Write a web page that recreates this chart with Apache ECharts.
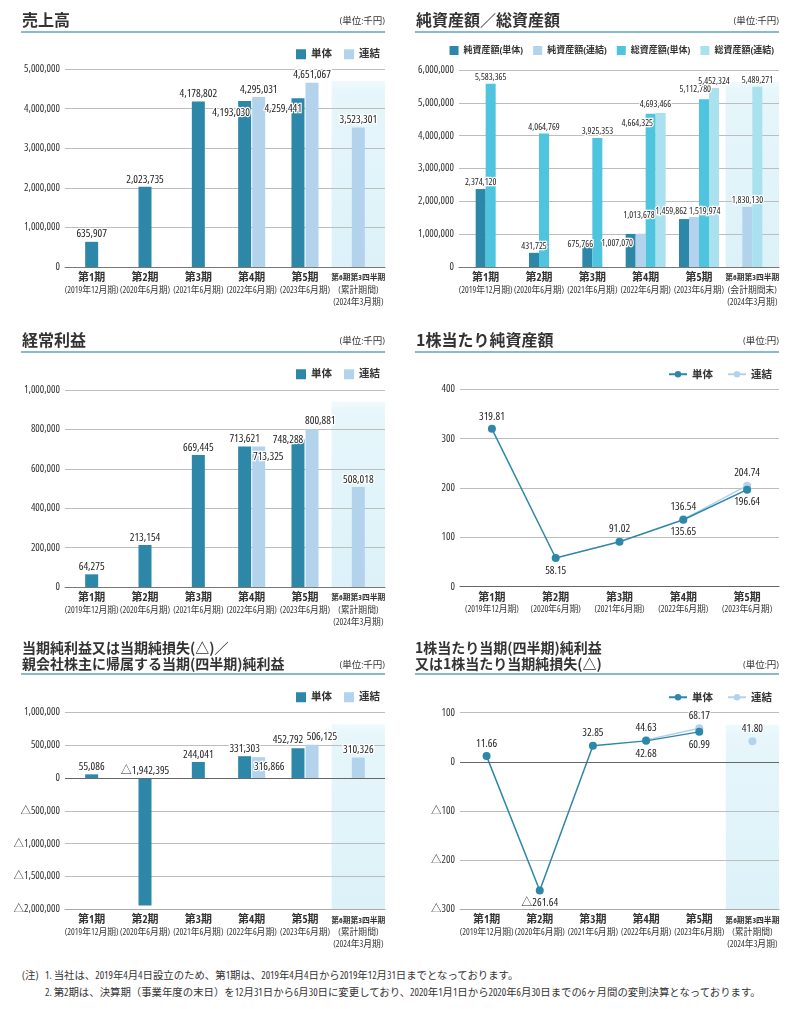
<!DOCTYPE html>
<html><head><meta charset="utf-8">
<script src="https://cdn.jsdelivr.net/npm/echarts@6/dist/echarts.min.js"></script>
<style>
body{margin:0;background:#fff;width:800px;height:1009px;position:relative;overflow:hidden}
.c{position:absolute}
#note{position:absolute;left:22px;top:967px;font-size:10.4px;font-family:'Open Sans','Noto Sans CJK JP',sans-serif;font-stretch:condensed;color:#333;line-height:17px;white-space:nowrap}
#note .h{display:inline-block;width:23px}
</style></head><body>
<div id="c1" class="c" style="left:0;top:0;width:400px;height:320px"></div>
<div id="c2" class="c" style="left:400px;top:0;width:400px;height:320px"></div>
<div id="c3" class="c" style="left:0;top:320px;width:400px;height:315px"></div>
<div id="c4" class="c" style="left:400px;top:320px;width:400px;height:315px"></div>
<div id="c5" class="c" style="left:0;top:635px;width:400px;height:325px"></div>
<div id="c6" class="c" style="left:400px;top:635px;width:400px;height:325px"></div>
<div id="note">
<div><span class="h">(注)</span>1. 当社は、2019年4月4日設立のため、第1期は、2019年4月4日から2019年12月31日までとなっております。</div>
<div><span class="h"></span>2. 第2期は、決算期（事業年度の末日）を12月31日から6月30日に変更しており、2020年1月1日から2020年6月30日までの6ヶ月間の変則決算となっております。</div>
</div>
<script>
// ---------- data ----------
const categories = ['第1期','第2期','第3期','第4期','第5期','第6期第3四半期'];
const periodsA = ['(2019年12月期)','(2020年6月期)','(2021年6月期)','(2022年6月期)','(2023年6月期)','(累計期間)'];
const periodsB = ['(2019年12月期)','(2020年6月期)','(2021年6月期)','(2022年6月期)','(2023年6月期)','(会計期間末)'];
const periodsC = ['','','','','','(2024年3月期)'];
const categories5 = ['第1期','第2期','第3期','第4期','第5期'];

const salesSingle  = [635907, 2023735, 4178802, 4193030, 4259441, null];
const salesConsol  = [null, null, null, 4295031, 4651067, 3523301];
const netAssetsSingle   = [2374120, 431725, 675766, 1007070, 1459862, null];
const netAssetsConsol   = [null, null, null, 1013678, 1519974, 1830130];
const totalAssetsSingle = [5583365, 4064769, 3925353, 4664325, 5112780, null];
const totalAssetsConsol = [null, null, null, 4693466, 5452324, 5489271];
const ordinarySingle = [64275, 213154, 669445, 713621, 748288, null];
const ordinaryConsol = [null, null, null, 713325, 800881, 508018];
const bpsSingle = [319.81, 58.15, 91.02, 135.65, 196.64];
const bpsConsol = [null, null, null, 136.54, 204.74];
const netIncomeSingle = [55086, -1942395, 244041, 331303, 452792, null];
const netIncomeConsol = [null, null, null, 316866, 506125, 310326];
const epsSingle = [11.66, -261.64, 32.85, 42.68, 60.99, null];
const epsConsol = [null, null, null, 44.63, 68.17, 41.80];

const salesTicks = {min:0, max:5000000, interval:1000000};
const assetTicks = {min:0, max:6000000, interval:1000000};
const ordinaryTicks = {min:0, max:1000000, interval:200000};
const bpsTicks = {min:0, max:400, interval:100};
const netIncomeTicks = {min:-2000000, max:1000000, interval:500000};
const epsTicks = {min:-300, max:100, interval:100};

// ---------- style ----------
const FONT = "'Open Sans','Noto Sans CJK JP',sans-serif";
const CJK = "'Noto Sans CJK JP',sans-serif";
const COND = 'condensed';
const C_S = '#2d87a8', C_C = '#b3d3ec', C_TS = '#4ec4df', C_TC = '#a9e1ef';

function fmtNum(v, dec){
  const a = Math.abs(v);
  const s = dec ? a.toFixed(dec) : a.toLocaleString('en-US');
  return (v < 0 ? '△' : '') + s;
}

function header(h){
  const els = [];
  h.titles.forEach((t,i)=>els.push({type:'text', x:h.tx, y:h.ty[i], silent:true,
    style:{text:t, fontSize:h.tsize, fontWeight:'bold', fontFamily:CJK, fill:'#333',
      verticalAlign:'middle', textVerticalAlign:'middle'}}));
  els.push({type:'text', x:h.ux, y:h.uy, silent:true,
    style:{text:h.unit, fontSize:9.5, fontStyle:COND, fontFamily:FONT, fill:'#333', align:'right', textAlign:'right',
      verticalAlign:'middle', textVerticalAlign:'middle'}});
  els.push({type:'line', silent:true, shape:{x1:h.lx1, y1:h.ly, x2:h.lx2, y2:h.ly},
    style:{stroke:'#86bccf', lineWidth:2}});
  return els;
}

function xLabel(cats, sub1, sub2){
  return {
    interval:0, margin:5, color:'#333',
    formatter:(v,i)=>{
      const first = v.length > 4 ? `{c|${v}}` : `{a|${v}}`;
      let s = first + `\n{b|${sub1[i]}}`;
      if (sub2 && sub2[i]) s += `\n{b|${sub2[i]}}`;
      return s;
    },
    rich:{
      a:{fontSize:11, fontWeight:'bold', fontStyle:COND, fontFamily:FONT, color:'#333', lineHeight:12},
      c:{fontSize:7.8, fontWeight:'bold', fontStyle:COND, fontFamily:FONT, color:'#333', lineHeight:12},
      b:{fontSize:8.8, fontStyle:COND, fontFamily:FONT, color:'#333', lineHeight:12}
    }
  };
}

function yAxisCfg(t){
  return {type:'value', min:t.min, max:t.max, interval:t.interval,
    axisLine:{show:false}, axisTick:{show:false},
    axisLabel:{fontSize:10.5, fontStyle:COND, fontFamily:FONT, color:'#333', margin:5, formatter:v=>fmtNum(v, 0)},
    splitLine:{lineStyle:{color:'#bdbdbd', width:1}}};
}

function addShade(chart, cats, ticks, headerEls){
  const els = headerEls.slice();
  if (cats.length === 6){
    const x5 = chart.convertToPixel({xAxisIndex:0}, cats[5]);
    const x4 = chart.convertToPixel({xAxisIndex:0}, cats[4]);
    const band = x5 - x4;
    const yTop = chart.convertToPixel({yAxisIndex:0}, ticks.max) + 12;
    const yBot = chart.convertToPixel({yAxisIndex:0}, ticks.min);
    els.push({type:'rect', z:-1, silent:true,
      shape:{x:x5 - band/2, y:yTop, width:band, height:yBot - yTop},
      style:{fill:new echarts.graphic.LinearGradient(0,0,0,1,[
        {offset:0, color:'rgba(228,246,251,0.6)'},{offset:0.06, color:'#e6f6fb'},{offset:1, color:'#dcf2f8'}])}});
  }
  chart.setOption({graphic:els});
}

function buildBar(id, cfg){
  const chart = echarts.init(document.getElementById(id));
  const full = cfg.cats.map((c,i)=>cfg.series.every(s=>s.data[i]!=null));
  const partial = full.map(f=>!f);
  const ov = cfg.overrides || {};
  const baseLabel = {show:true, position:'top', distance:2, fontSize:cfg.labelSize, fontStyle:COND, fontFamily:FONT, color:'#222',
    textBorderColor:'#fff', textBorderWidth:2.5, formatter:p=>fmtNum(p.value)};
  const mkData = (s, mask)=>s.data.map((v,i)=>{
    if (!mask[i] || v==null) return null;
    const o = ov[s.key + i];
    if (!o) return v;
    return {value:v, label:{position:'top', distance:0, align:o[0], verticalAlign:'middle', offset:[o[1], o[2]]}};
  });
  const series = [];
  cfg.series.forEach(s=>{
    series.push({type:'bar', name:s.name, xAxisIndex:0, yAxisIndex:0, data:mkData(s, full),
      barWidth:cfg.barWidth, barGap:cfg.barGap, itemStyle:{color:s.color}, label:baseLabel, z:3});
  });
  cfg.series.forEach(s=>{
    let slot = -1;
    s.data.forEach((v,i)=>{
      if (partial[i] && v!=null && slot<0) slot = cfg.series.filter(t=>t.data[i]!=null).indexOf(s);
    });
    if (slot < 0) return;
    series.push({type:'bar', name:s.name, xAxisIndex:1, yAxisIndex:0, stack:'slot'+slot, data:mkData(s, partial),
      barWidth:cfg.barWidth, barGap:cfg.barGap, itemStyle:{color:s.color}, label:baseLabel, z:3});
  });
  if (cfg.zeroLine){
    series[0].markLine = {symbol:'none', silent:true, label:{show:false},
      lineStyle:{color:'#666', type:'solid', width:1}, data:[{yAxis:0}]};
  }
  chart.setOption({
    animation:false,
    textStyle:{fontFamily:FONT},
    legend:Object.assign({icon:'rect', itemWidth:10, itemHeight:10, itemGap:12, selectedMode:false,
      data:cfg.legend, textStyle:{fontSize:10.5, fontWeight:'bold', fontStyle:COND, fontFamily:FONT, color:'#333'}}, cfg.legendPos),
    grid:Object.assign({outerBoundsMode:'none', containLabel:false}, cfg.grid),
    xAxis:[
      {type:'category', data:cfg.cats, axisTick:{show:false},
        axisLine:{onZero:false, lineStyle:{color:cfg.zeroLine ? '#aaa' : '#777'}},
        axisLabel:xLabel(cfg.cats, cfg.sub1, cfg.sub2)},
      {type:'category', data:cfg.cats, show:false}
    ],
    yAxis:yAxisCfg(cfg.ticks),
    series
  });
  addShade(chart, cfg.cats, cfg.ticks, header(cfg.header));
}

function buildLine(id, cfg){
  const chart = echarts.init(document.getElementById(id));
  const S = cfg.single, C = cfg.consol;
  const pos = i=>{
    if (C[i]!=null) return 'bottom';
    const v=S[i], a=S[i-1], b=S[i+1];
    if (a!=null && b!=null && v<a && v<b) return 'bottom';
    return 'top';
  };
  const lbl = {show:true, distance:3, fontSize:11, fontStyle:COND, fontFamily:FONT, color:'#222',
    textBorderColor:'#fff', textBorderWidth:2, formatter:p=>fmtNum(p.value, 2)};
  const sep = cfg.cats.length === 6 ? 5 : -1;
  const lineCommon = {type:'line', symbol:'circle', symbolSize:8, showAllSymbol:true, connectNulls:false};
  const series = [
    Object.assign({}, lineCommon, {name:'単体', z:4, itemStyle:{color:C_S}, lineStyle:{color:C_S, width:1.5},
      label:lbl, data:S.map((v,i)=>v==null?null:{value:v, label:{position:pos(i)}})}),
    Object.assign({}, lineCommon, {name:'連結', z:3, itemStyle:{color:C_C}, lineStyle:{color:C_C, width:1.5},
      label:Object.assign({}, lbl, {position:'top'}), data:C.map((v,i)=>i===sep?null:v)})
  ];
  if (sep >= 0){
    series.push(Object.assign({}, lineCommon, {name:'連結', z:3, itemStyle:{color:C_C}, lineStyle:{color:C_C, width:1.5},
      label:Object.assign({}, lbl, {position:'top'}), data:C.map((v,i)=>i===sep?v:null)}));
  }
  if (cfg.zeroLine){
    series[0].markLine = {symbol:'none', silent:true, label:{show:false},
      lineStyle:{color:'#666', type:'solid', width:1}, data:[{yAxis:0}]};
  }
  chart.setOption({
    animation:false,
    textStyle:{fontFamily:FONT},
    legend:Object.assign({itemWidth:18, itemHeight:8, itemGap:14, selectedMode:false, data:['単体','連結'],
      textStyle:{fontSize:10.5, fontWeight:'bold', fontFamily:CJK, color:'#333'}}, cfg.legendPos),
    grid:Object.assign({outerBoundsMode:'none', containLabel:false}, cfg.grid),
    xAxis:{type:'category', data:cfg.cats, axisTick:{show:false},
      axisLine:{onZero:false, lineStyle:{color:cfg.zeroLine ? '#aaa' : '#666'}},
      axisLabel:xLabel(cfg.cats, cfg.sub1, cfg.sub2)},
    yAxis:yAxisCfg(cfg.ticks),
    series
  });
  addShade(chart, cfg.cats, cfg.ticks, header(cfg.header));
}

// ---------- charts ----------
buildBar('c1', {
  cats:categories, sub1:periodsA, sub2:periodsC, ticks:salesTicks, labelSize:11,
  series:[{key:'S', name:'単体', data:salesSingle, color:C_S},{key:'C', name:'連結', data:salesConsol, color:C_C}],
  legend:['単体','連結'], legendPos:{right:15, top:44},
  grid:{left:65, right:15, top:69, bottom:53}, barWidth:13, barGap:'8%',
  overrides:{S3:['right',5.3,11.7], S4:['right',4,10.7]},
  header:{titles:['売上高'], tx:22, ty:[20], tsize:16, unit:'(単位:千円)', ux:385, uy:21, lx1:21, lx2:385, ly:32}
});

buildBar('c2', {
  cats:categories, sub1:periodsB, sub2:periodsC, ticks:assetTicks, labelSize:9.2,
  series:[
    {key:'NS', name:'純資産額(単体)', data:netAssetsSingle, color:C_S},
    {key:'NC', name:'純資産額(連結)', data:netAssetsConsol, color:C_C},
    {key:'TS', name:'総資産額(単体)', data:totalAssetsSingle, color:C_TS},
    {key:'TC', name:'総資産額(連結)', data:totalAssetsConsol, color:C_TC}],
  legend:['純資産額(単体)','純資産額(連結)','総資産額(単体)','総資産額(連結)'],
  legendPos:{right:21, top:41, itemWidth:9, itemHeight:9, itemGap:10, textStyle:{fontSize:9, fontWeight:'bold', fontStyle:COND, fontFamily:FONT, color:'#333'}},
  grid:{left:59, right:21, top:70, bottom:53}, barWidth:10, barGap:'0%',
  overrides:{NS2:['right',5.7,0], NS3:['right',2.3,9.3], NC3:['center',-1.7,-18.7], TS3:['right',2.3,9.4],
    TC3:['center',-5.2,-8.9], NS4:['right',3,-7.3], NC4:['left',-5,-5.3], TS4:['right',7,-9.7]},
  header:{titles:['純資産額／総資産額'], tx:16, ty:[20], tsize:16, unit:'(単位:千円)', ux:379, uy:21, lx1:15, lx2:379, ly:32}
});

buildBar('c3', {
  cats:categories, sub1:periodsA, sub2:periodsC, ticks:ordinaryTicks, labelSize:11,
  series:[{key:'S', name:'単体', data:ordinarySingle, color:C_S},{key:'C', name:'連結', data:ordinaryConsol, color:C_C}],
  legend:['単体','連結'], legendPos:{right:15, top:44},
  grid:{left:65, right:15, top:70, bottom:48}, barWidth:13, barGap:'8%',
  overrides:{C3:['left',-5.7,10], S4:['right',5.3,0], C4:['left',-7,-8.8]},
  header:{titles:['経常利益'], tx:22, ty:[20], tsize:16, unit:'(単位:千円)', ux:385, uy:21, lx1:21, lx2:385, ly:32}
});

buildLine('c4', {
  cats:categories5, sub1:periodsA, sub2:null, ticks:bpsTicks, single:bpsSingle, consol:bpsConsol,
  legendPos:{right:23, top:44},
  grid:{left:60, right:21, top:69.3, bottom:48.3},
  header:{titles:['1株当たり純資産額'], tx:16, ty:[20], tsize:16, unit:'(単位:円)', ux:379, uy:21, lx1:15, lx2:379, ly:32}
});

buildBar('c5', {
  cats:categories, sub1:periodsA, sub2:periodsC, ticks:netIncomeTicks, zeroLine:true, labelSize:11,
  series:[{key:'S', name:'単体', data:netIncomeSingle, color:C_S},{key:'C', name:'連結', data:netIncomeConsol, color:C_C}],
  legend:['単体','連結'], legendPos:{right:15, top:52},
  grid:{left:65, right:15, top:77.3, bottom:50.7}, barWidth:13, barGap:'8%',
  overrides:{C3:['left',-4.7,9.8], S4:['right',5.3,-8.6], C4:['left',-5.3,-7.4]},
  header:{titles:['当期純利益又は当期純損失(△)／','親会社株主に帰属する当期(四半期)純利益'], tx:22, ty:[13,29], tsize:14,
    unit:'(単位:千円)', ux:385, uy:30, lx1:21, lx2:385, ly:39}
});

buildLine('c6', {
  cats:categories, sub1:periodsA, sub2:periodsC, ticks:epsTicks, single:epsSingle, consol:epsConsol, zeroLine:true,
  legendPos:{right:23, top:52},
  grid:{left:60, right:21, top:77.7, bottom:50.7},
  header:{titles:['1株当たり当期(四半期)純利益','又は1株当たり当期純損失(△)'], tx:15, ty:[13,29], tsize:14,
    unit:'(単位:円)', ux:379, uy:30, lx1:15, lx2:379, ly:39}
});
</script>
</body></html>
